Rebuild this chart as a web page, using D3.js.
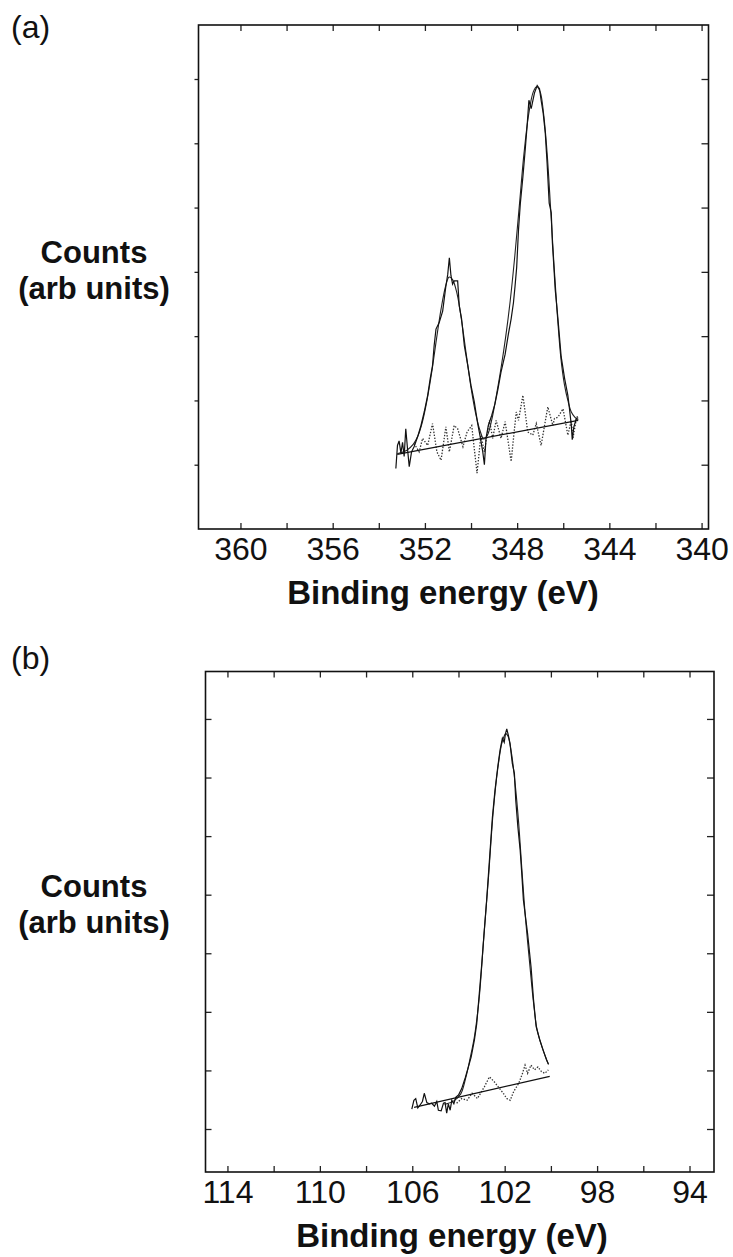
<!DOCTYPE html>
<html>
<head>
<meta charset="utf-8">
<script src="https://cdn.jsdelivr.net/npm/d3@7"></script>
<style>
  body { margin: 0; background: #fff; }
  svg { display: block; }
  text { font-family: "Liberation Sans", Arial, Helvetica, sans-serif; fill: #111; }
</style>
</head>
<body>
<svg id="chart" width="733" height="1257"></svg>
<script>
// ---- panel (a): binding energy (eV) vs counts (arb units)
const aXTicks = [360, 358, 356, 354, 352, 350, 348, 346, 344, 342, 340];
const aXLabels = [360, 356, 352, 348, 344, 340];
const aYTicks = [1, 2, 3, 4, 5, 6, 7];

const aRaw = [
  [353.26, 0.94], [353.19, 1.30], [353.12, 1.37], [353.04, 1.18], [352.97, 1.35],
  [352.90, 1.13], [352.83, 1.56], [352.75, 1.23], [352.68, 0.97], [352.58, 1.20],
  [352.47, 1.28], [352.32, 1.43], [352.17, 1.61], [352.03, 1.82], [351.88, 2.08],
  [351.77, 2.34], [351.67, 2.54], [351.60, 2.85], [351.52, 3.11], [351.38, 3.21],
  [351.23, 3.39], [351.09, 3.78], [351.01, 3.96], [350.94, 4.22], [350.87, 3.94],
  [350.80, 3.81], [350.73, 3.86], [350.58, 3.86], [350.51, 3.47], [350.41, 3.27],
  [350.29, 2.85], [350.14, 2.54], [350.00, 2.23], [349.86, 1.98], [349.71, 1.64],
  [349.59, 1.41], [349.49, 1.20], [349.42, 1.00], [349.35, 1.41], [349.25, 1.61],
  [349.10, 1.77], [348.96, 1.95], [348.84, 2.16], [348.70, 2.44], [348.52, 2.72],
  [348.38, 3.03], [348.26, 3.27], [348.16, 3.52], [348.09, 3.78], [348.02, 4.07],
  [347.94, 4.66], [347.86, 5.07], [347.75, 5.48], [347.65, 5.90], [347.57, 6.26],
  [347.49, 6.67], [347.39, 6.54], [347.25, 6.78], [347.13, 6.90], [347.03, 6.85],
  [346.96, 6.67], [346.87, 6.47], [346.78, 6.16], [346.70, 5.69], [346.61, 5.07],
  [346.52, 4.92], [346.47, 4.45], [346.40, 4.04], [346.35, 3.73], [346.23, 3.27],
  [346.09, 2.68], [345.94, 2.34], [345.80, 2.08], [345.73, 1.87], [345.65, 1.61],
  [345.61, 1.39], [345.54, 1.59], [345.43, 1.72], [345.35, 1.73]
];
const aFit = [
  [353.20, 1.17], [352.80, 1.22], [352.50, 1.32], [352.30, 1.45], [352.10, 1.68],
  [351.90, 2.02], [351.70, 2.45], [351.50, 2.95], [351.30, 3.42], [351.10, 3.78],
  [350.95, 3.92], [350.80, 3.88], [350.60, 3.65], [350.40, 3.22], [350.20, 2.70],
  [350.00, 2.20], [349.80, 1.80], [349.60, 1.52], [349.45, 1.40], [349.30, 1.45],
  [349.10, 1.70], [348.90, 2.08], [348.70, 2.50], [348.50, 2.98], [348.30, 3.55],
  [348.10, 4.25], [347.90, 5.05], [347.70, 5.85], [347.50, 6.45], [347.30, 6.80],
  [347.15, 6.88], [347.00, 6.80], [346.85, 6.45], [346.70, 5.85], [346.55, 5.00],
  [346.40, 4.10], [346.25, 3.30], [346.10, 2.65], [345.95, 2.25], [345.80, 2.00],
  [345.65, 1.82], [345.50, 1.74], [345.35, 1.70]
];
const aBackground = [[353.20, 1.16], [345.35, 1.69]];
const aResidual = [
  [352.47, 1.33], [352.25, 1.20], [352.10, 1.41], [351.88, 1.30], [351.67, 1.64],
  [351.48, 1.20], [351.30, 1.07], [351.09, 1.59], [350.94, 1.20], [350.73, 1.61],
  [350.58, 1.56], [350.35, 1.28], [350.17, 1.51], [349.97, 1.61], [349.74, 0.87],
  [349.57, 1.46], [349.42, 1.20], [349.20, 1.69], [349.06, 1.41], [348.91, 1.69],
  [348.70, 1.41], [348.52, 1.67], [348.26, 1.05], [348.04, 1.82], [347.94, 1.69],
  [347.75, 2.08], [347.54, 1.51], [347.32, 1.46], [347.17, 1.64], [346.96, 1.30],
  [346.67, 1.90], [346.45, 1.61], [346.38, 1.72], [346.23, 1.74], [346.01, 1.87],
  [345.80, 1.46], [345.65, 1.69], [345.58, 1.41], [345.43, 1.72], [345.36, 1.77]
];

// ---- panel (b)
const bXTicks = [114, 112, 110, 108, 106, 104, 102, 100, 98, 96, 94];
const bXLabels = [114, 110, 106, 102, 98, 94];
const bYTicks = [1, 2, 3, 4, 5, 6, 7, 8];

const bRaw = [
  [106.02, 1.34], [105.93, 1.49], [105.85, 1.52], [105.76, 1.36], [105.66, 1.41],
  [105.56, 1.47], [105.48, 1.61], [105.37, 1.45], [105.27, 1.43], [105.16, 1.44],
  [105.04, 1.39], [104.94, 1.47], [104.87, 1.32], [104.75, 1.31], [104.65, 1.44],
  [104.58, 1.45], [104.51, 1.27], [104.44, 1.43], [104.36, 1.32], [104.29, 1.49],
  [104.20, 1.43], [104.12, 1.54], [104.00, 1.58], [103.86, 1.69], [103.71, 1.87],
  [103.57, 2.06], [103.45, 2.23], [103.31, 2.52], [103.21, 2.80], [103.11, 3.26],
  [102.99, 3.83], [102.88, 4.40], [102.78, 4.91], [102.63, 5.76], [102.53, 6.33],
  [102.42, 6.78], [102.30, 7.18], [102.20, 7.47], [102.10, 7.67], [102.02, 7.60],
  [101.97, 7.74], [101.91, 7.83], [101.84, 7.72], [101.77, 7.58], [101.67, 7.24],
  [101.58, 7.07], [101.52, 6.61], [101.43, 6.16], [101.33, 5.76], [101.26, 5.36],
  [101.19, 4.91], [101.01, 4.34], [100.86, 3.77], [100.75, 3.20], [100.64, 2.75],
  [100.48, 2.52], [100.34, 2.35], [100.19, 2.18], [100.11, 2.11]
];
const bFit = [
  [104.60, 1.42], [104.20, 1.48], [103.90, 1.60], [103.70, 1.85], [103.50, 2.20],
  [103.30, 2.60], [103.10, 3.25], [102.90, 4.30], [102.70, 5.30], [102.50, 6.40],
  [102.30, 7.15], [102.10, 7.62], [101.95, 7.75], [101.85, 7.70], [101.70, 7.40],
  [101.55, 6.90], [101.40, 6.25], [101.25, 5.40], [101.10, 4.60], [100.90, 3.75],
  [100.75, 3.15], [100.60, 2.70], [100.40, 2.42], [100.20, 2.20], [100.10, 2.10]
];
const bBackground = [[105.92, 1.37], [100.05, 1.90]];
const bResidual = [
  [104.08, 1.44], [103.86, 1.52], [103.63, 1.49], [103.41, 1.61], [103.18, 1.52],
  [102.88, 1.72], [102.66, 1.89], [102.46, 1.81], [102.28, 1.72], [102.06, 1.61],
  [101.91, 1.52], [101.76, 1.49], [101.61, 1.64], [101.39, 1.78], [101.23, 1.95],
  [101.12, 2.09], [101.01, 1.95], [100.86, 2.09], [100.71, 2.01], [100.56, 2.06],
  [100.41, 1.98], [100.26, 1.95], [100.11, 2.01]
];

const svg = d3.select("#chart");
svg.append("rect").attr("width", 733).attr("height", 1257).attr("fill", "#fff");

drawPanel({
  tag: "(a)", tagY: 38,
  left: 198.5, right: 708.5, top: 25, bottom: 529,
  xDomain: [361.82, 339.7], yDomain: [0, 7.84],
  xTicks: aXTicks, xLabels: aXLabels, yTicks: aYTicks, leftTicksOut: true,
  raw: aRaw, fit: aFit, background: aBackground, residual: aResidual,
  countsY: 263, titleX: 443
});

drawPanel({
  tag: "(b)", tagY: 669,
  left: 205.5, right: 714, top: 671.5, bottom: 1172,
  xDomain: [114.95, 92.94], yDomain: [0.266, 8.81],
  xTicks: bXTicks, xLabels: bXLabels, yTicks: bYTicks, leftTicksOut: false,
  raw: bRaw, fit: bFit, background: bBackground, residual: bResidual,
  countsY: 897, titleX: 452
});

function drawPanel(p) {
  const x = d3.scaleLinear().domain(p.xDomain).range([p.left, p.right]);
  const y = d3.scaleLinear().domain(p.yDomain).range([p.bottom, p.top]);
  const g = svg.append("g");

  const fmt = d => p.xLabels.includes(d) ? String(d) : "";

  // bottom axis, ticks inside
  const bottomAxis = g.append("g")
    .attr("transform", `translate(0,${p.bottom})`)
    .call(d3.axisBottom(x).tickValues(p.xTicks).tickSize(-6).tickSizeOuter(0)
      .tickPadding(8).tickFormat(fmt));
  bottomAxis.selectAll("text").style("font-size", "32px");

  g.append("g")
    .attr("transform", `translate(0,${p.top})`)
    .call(d3.axisTop(x).tickValues(p.xTicks).tickSize(-6).tickSizeOuter(0).tickFormat(""));

  g.append("g")
    .attr("transform", `translate(${p.right},0)`)
    .call(d3.axisRight(y).tickValues(p.yTicks).tickSize(-7).tickSizeOuter(0).tickFormat(""));

  g.append("g")
    .attr("transform", `translate(${p.left},0)`)
    .call(d3.axisLeft(y).tickValues(p.yTicks).tickSize(p.leftTicksOut ? 4 : -6)
      .tickSizeOuter(0).tickFormat(""));

  g.selectAll(".domain").remove();
  g.selectAll(".tick line").attr("stroke", "#222").attr("stroke-width", 1.3);

  g.append("rect")
    .attr("x", p.left).attr("y", p.top)
    .attr("width", p.right - p.left).attr("height", p.bottom - p.top)
    .attr("fill", "none").attr("stroke", "#111").attr("stroke-width", 1.6);

  const line = d3.line().x(d => x(d[0])).y(d => y(d[1]));

  g.append("path").datum(p.residual)
    .attr("fill", "none").attr("stroke", "#333").attr("stroke-width", 1.3)
    .attr("stroke-dasharray", "1.4,1.6").attr("d", line);
  g.append("path").datum(p.background)
    .attr("fill", "none").attr("stroke", "#111").attr("stroke-width", 1.3).attr("d", line);
  g.append("path").datum(p.fit)
    .attr("fill", "none").attr("stroke", "#222").attr("stroke-width", 1.1)
    .attr("d", d3.line().x(d => x(d[0])).y(d => y(d[1])).curve(d3.curveCatmullRom));
  g.append("path").datum(p.raw)
    .attr("fill", "none").attr("stroke", "#111").attr("stroke-width", 1.2)
    .attr("d", line);

  // labels
  svg.append("text").attr("x", 11).attr("y", p.tagY)
    .style("font-size", "32px").text(p.tag);

  const yl = svg.append("text").attr("text-anchor", "middle")
    .style("font-size", "31px").style("font-weight", "bold");
  yl.append("tspan").attr("x", 94).attr("y", p.countsY).text("Counts");
  yl.append("tspan").attr("x", 94).attr("y", p.countsY + 36).text("(arb units)");

  svg.append("text").attr("x", p.titleX).attr("y", p.bottom + 75)
    .attr("text-anchor", "middle")
    .style("font-size", "33px").style("font-weight", "bold")
    .text("Binding energy (eV)");
}
</script>
</body>
</html>
